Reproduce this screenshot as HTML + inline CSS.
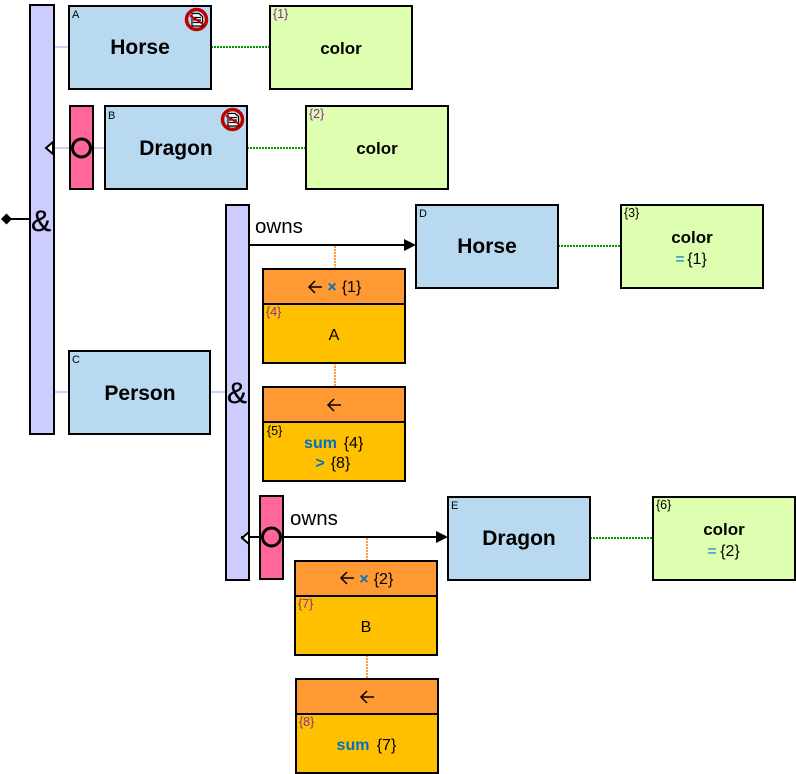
<!DOCTYPE html>
<html><head><meta charset="utf-8"><style>
html,body{margin:0;padding:0;background:#fff}
svg{display:block}
text{font-family:"Liberation Sans",sans-serif;fill:#000}
.t{font-weight:bold;font-size:21px;text-anchor:middle}
.c{font-weight:bold;font-size:17px;text-anchor:middle}
.s{font-size:11px}
.k{font-size:12.500px}
.p{font-size:12.500px;fill:#8a2aa0}
.m{font-size:16px;text-anchor:middle}
.b{fill:#0070c0;font-weight:bold;font-size:16px;text-anchor:middle}
.e{fill:#0070c0;font-size:16px;text-anchor:middle}
.a{font-size:30px;text-anchor:middle;stroke:#000;stroke-width:.3px}
</style></head><body>
<svg width="796" height="774" viewBox="0 0 796 774" xmlns="http://www.w3.org/2000/svg">
<g stroke="#ccccff" stroke-width="2" fill="none">
<path d="M54 47H69M54 148H70M93 148H105M54 392H69M210 392H226"/>
</g>
<g stroke="#009900" stroke-width="2" stroke-dasharray="2 1" fill="none">
<path d="M211 47H269M247 148H306M558 246H621M590 538H653"/>
</g>
<g stroke="#ff9933" stroke-width="2" stroke-dasharray="2 1" fill="none">
<path d="M335 246V269M335 363V387M367 538V561M367 655V679"/>
</g>
<g stroke="#000" stroke-width="2">
<rect x="30" y="5" width="24" height="429" fill="#ccccff"/>
<rect x="226" y="205" width="23" height="375" fill="#ccccff"/>
<rect x="70" y="106" width="23" height="83" fill="#ff6699"/>
<rect x="260" y="496" width="23" height="83" fill="#ff6699"/>
<g fill="#b9d9f0">
<rect x="69" y="6" width="142" height="83"/>
<rect x="105" y="106" width="142" height="83"/>
<rect x="69" y="351" width="141" height="83"/>
<rect x="416" y="205" width="142" height="83"/>
<rect x="448" y="497" width="142" height="83"/>
</g>
<g fill="#ddffaf">
<rect x="270" y="6" width="142" height="83"/>
<rect x="306" y="106" width="142" height="83"/>
<rect x="621" y="205" width="142" height="83"/>
<rect x="653" y="497" width="142" height="83"/>
</g>
<g fill="#ff9933">
<rect x="263" y="269" width="142" height="35"/>
<rect x="263" y="387" width="142" height="35"/>
<rect x="295" y="561" width="142" height="35"/>
<rect x="296" y="679" width="142" height="35"/>
</g>
<g fill="#ffc000">
<rect x="263" y="304" width="142" height="59"/>
<rect x="263" y="422" width="142" height="59"/>
<rect x="295" y="596" width="142" height="59"/>
<rect x="296" y="714" width="142" height="59"/>
</g>
</g>
<g stroke="#000" stroke-width="2" fill="none">
<path d="M8 219H30M249 245H405M283 537H438M241 537H260"/>
</g>
<g stroke="#000" stroke-width="3" fill="none">
<circle cx="81.500" cy="148" r="9"/>
<circle cx="271.500" cy="537" r="9"/>
</g>
<path d="M1 219L6.500 213.500L12 219L6.500 224.500Z" fill="#000"/>
<path d="M404 239L416 245L404 251Z" fill="#000"/>
<path d="M436 531L448 537L436 543Z" fill="#000"/>
<path d="M53 142L46 148L53 154Z" fill="#fff" stroke="#000" stroke-width="2"/>
<path d="M249 532L242 538L249 544Z" fill="#fff" stroke="#000" stroke-width="2"/>

<g>
<circle cx="196.500" cy="19.500" r="10" fill="#b9d9f0" stroke="#c00000" stroke-width="3.500"/>
<path d="M192 13.500H199L202.500 16.500V26H192Z" fill="#fff" stroke="#000" stroke-width="1.200"/>
<path d="M193 17.500H201M193 20H201M193 22.500H201" stroke="#000" stroke-width="1.200"/>
<path d="M190 15.500L203 24" stroke="#c00000" stroke-width="2"/>
</g>
<g transform="translate(36,100)">
<circle cx="196.500" cy="19.500" r="10" fill="#b9d9f0" stroke="#c00000" stroke-width="3.500"/>
<path d="M192 13.500H199L202.500 16.500V26H192Z" fill="#fff" stroke="#000" stroke-width="1.200"/>
<path d="M193 17.500H201M193 20H201M193 22.500H201" stroke="#000" stroke-width="1.200"/>
<path d="M190 15.500L203 24" stroke="#c00000" stroke-width="2"/>
</g>

<text x="140" y="54" class="t">Horse</text>
<text x="176" y="155" class="t">Dragon</text>
<text x="140" y="400" class="t">Person</text>
<text x="487" y="253" class="t">Horse</text>
<text x="519" y="545" class="t">Dragon</text>
<text x="341" y="54" class="c">color</text>
<text x="377" y="154" class="c">color</text>
<text x="692" y="243" class="c">color</text>
<text x="724" y="535" class="c">color</text>

<text x="72" y="18" class="s">A</text>
<text x="108" y="119" class="s">B</text>
<text x="72" y="363" class="s">C</text>
<text x="419" y="217" class="s">D</text>
<text x="451" y="509" class="s">E</text>
<text x="273" y="18" class="p">{1}</text>
<text x="309" y="118" class="p">{2}</text>
<text x="624" y="217" class="k">{3}</text>
<text x="656" y="509" class="k">{6}</text>
<text x="266" y="316" class="p">{4}</text>
<text x="267" y="435" class="k">{5}</text>
<text x="298" y="608" class="p">{7}</text>
<text x="299" y="726" class="p">{8}</text>

<text x="41" y="231" class="a">&amp;</text>
<text x="237" y="403" class="a">&amp;</text>
<text x="255" y="233" font-size="20.500">owns</text>
<text x="290" y="525" font-size="20.500">owns</text>

<text x="680" y="264" class="e">=</text>
<text x="697" y="264" class="m">{1}</text>
<text x="712" y="556" class="e">=</text>
<text x="730" y="556" class="m">{2}</text>

<g stroke="#000" stroke-width="1.500" fill="none">
<path d="M322 287H309M315 281L309 287L315 293"/>
<path d="M341 405H328M334 399L328 405L334 411"/>
<path d="M354 578H341M347 572L341 578L347 584"/>
<path d="M374 697H361M367 691L361 697L367 703"/>
</g>
<text x="332" y="292" class="b">×</text>
<text x="351.500" y="292" class="m">{1}</text>
<text x="364" y="584" class="b">×</text>
<text x="383.500" y="584" class="m">{2}</text>

<text x="334" y="340" font-size="16" text-anchor="middle">A</text>
<text x="366" y="632" font-size="16" text-anchor="middle">B</text>
<text x="320.500" y="448" class="b">sum</text>
<text x="353.500" y="448" class="m">{4}</text>
<text x="320" y="468" class="b">&gt;</text>
<text x="340.500" y="468" class="m">{8}</text>
<text x="353" y="750" class="b">sum</text>
<text x="386.500" y="750" class="m">{7}</text>
</svg>
</body></html>
